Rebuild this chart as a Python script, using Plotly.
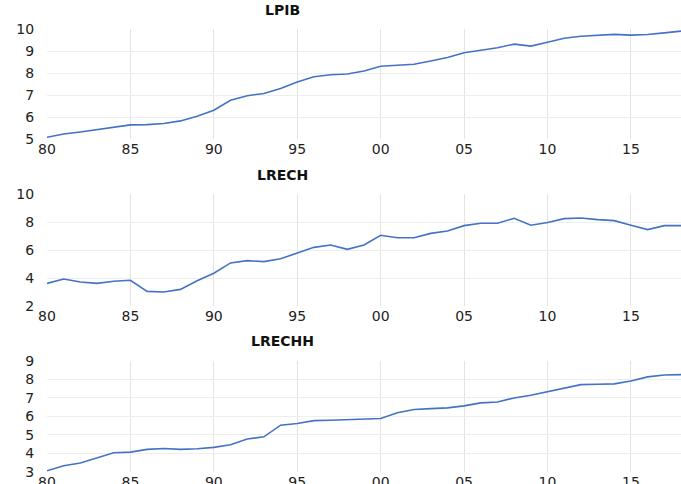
import plotly.graph_objects as go
from plotly.subplots import make_subplots

years = list(range(1980, 2019))

lpib = [5.10, 5.25, 5.34, 5.45, 5.57, 5.66, 5.67, 5.72, 5.84, 6.05,
        6.32, 6.77, 6.98, 7.08, 7.31, 7.60, 7.84, 7.93, 7.96, 8.10,
        8.31, 8.34, 8.40, 8.55, 8.71, 8.92, 9.04, 9.15, 9.31, 9.22,
        9.40, 9.58, 9.67, 9.72, 9.75, 9.72, 9.75, 9.82, 9.90]

lrech = [3.64, 3.95, 3.74, 3.64, 3.79, 3.86, 3.07, 3.02, 3.21, 3.83,
         4.36, 5.10, 5.26, 5.19, 5.40, 5.81, 6.21, 6.38, 6.07, 6.38,
         7.07, 6.90, 6.90, 7.21, 7.38, 7.76, 7.93, 7.93, 8.29, 7.79,
         7.98, 8.26, 8.31, 8.19, 8.12, 7.79, 7.48, 7.76, 7.76]

lrechh = [3.05, 3.32, 3.47, 3.74, 4.03, 4.06, 4.21, 4.26, 4.21, 4.24,
          4.32, 4.46, 4.77, 4.89, 5.52, 5.61, 5.77, 5.79, 5.83, 5.86,
          5.88, 6.20, 6.37, 6.42, 6.46, 6.57, 6.73, 6.78, 7.00, 7.14,
          7.32, 7.52, 7.72, 7.74, 7.76, 7.92, 8.14, 8.24, 8.26]

titles = ["LPIB", "LRECH", "LRECHH"]
x_tickvals = [1980, 1985, 1990, 1995, 2000, 2005, 2010, 2015]
x_ticktext = ["80", "85", "90", "95", "00", "05", "10", "15"]
y_ranges = [[5, 10], [2, 10], [3, 9]]
y_dticks = [1, 2, 1]

series = [lpib, lrech, lrechh]

W, H = 681, 484
fig = make_subplots(rows=3, cols=1)

y_domains = [[0.7118, 0.9403], [0.3671, 0.5986], [0.0254, 0.2541]]
title_y = [0.979, 0.638, 0.2955]
x_dom = [47 / W, 1.0]
font_fam = "DejaVu Sans"

for i, s in enumerate(series):
    r = i + 1
    fig.add_trace(go.Scatter(x=years, y=s, mode="lines",
                             line=dict(color="#4472C4", width=1.6),
                             showlegend=False), row=r, col=1)
    fig.update_xaxes(row=r, col=1, domain=x_dom, range=[1980, 2018],
                     automargin=False,
                     tickvals=x_tickvals, ticktext=x_ticktext,
                     showgrid=True, gridcolor="#e3e3e3", gridwidth=1,
                     zeroline=False, showline=False, ticks="",
                     tickfont=dict(family=font_fam, size=14, color="#222"))
    fig.update_yaxes(row=r, col=1, domain=y_domains[i], range=y_ranges[i],
                     automargin=False,
                     dtick=y_dticks[i], tick0=y_ranges[i][0],
                     showgrid=True, gridcolor="#eeeeee", gridwidth=1,
                     zeroline=False, showline=False,
                     ticks="outside", ticklen=9, tickcolor="rgba(0,0,0,0)",
                     tickfont=dict(family=font_fam, size=14, color="#222"))
    fig.add_annotation(text="<b>" + titles[i] + "</b>", xref="paper", yref="paper",
                       x=282 / W, y=title_y[i], xanchor="center", yanchor="middle",
                       showarrow=False,
                       font=dict(family=font_fam, size=14, color="#111"))

fig.update_layout(width=W, height=H, margin=dict(l=0, r=0, t=0, b=0),
                  plot_bgcolor="white", paper_bgcolor="white")

fig.write_html("out.html",
               config={"displayModeBar": False},
               post_script="document.body.style.margin='0';document.body.style.overflow='hidden';")
